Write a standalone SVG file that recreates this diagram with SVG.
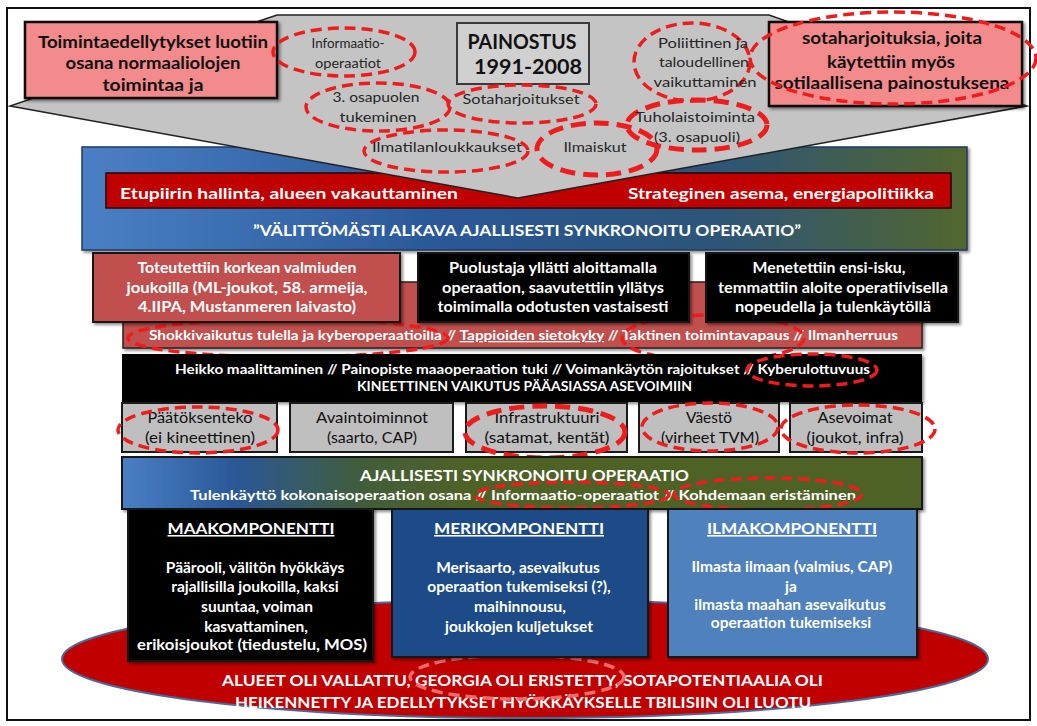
<svg xmlns="http://www.w3.org/2000/svg" width="1037" height="726" viewBox="0 0 1037 726">
<style>
text{font-family:Lato,"Liberation Sans",sans-serif;}
.b{font-weight:bold;}
.w{fill:#ffffff;}
.k{fill:#111111;}
.g{fill:#262626;}
.c{text-anchor:middle;}
.u{text-decoration:underline;}
.hl{fill:none;stroke:#ee1c1c;stroke-width:3.5;stroke-dasharray:11 6;}
.hl2{fill:none;stroke:#ee1c1c;stroke-width:5;stroke-dasharray:15 8;}
.bx{stroke:#151515;stroke-width:2;}
.pk{fill:#f38a8c;stroke:#111;stroke-width:2.5;}
.gb{fill:#bfbfbf;stroke:#1a1a1a;stroke-width:2;}
.body{font-size:15.5px;font-weight:bold;fill:#ffffff;text-anchor:middle;}
</style>
<defs>
<filter id="sh" x="-5%" y="-5%" width="110%" height="120%"><feDropShadow dx="2" dy="2" stdDeviation="1.5" flood-color="#000" flood-opacity="0.45"/></filter>
<linearGradient id="blueband" x1="0" y1="0" x2="1" y2="0">
<stop offset="0" stop-color="#4a7fc4"/><stop offset="0.4" stop-color="#2a5898"/><stop offset="0.72" stop-color="#2d5577"/><stop offset="1" stop-color="#52662e"/>
</linearGradient>
<linearGradient id="synk" x1="0" y1="0" x2="1" y2="0">
<stop offset="0" stop-color="#4a7fc4"/><stop offset="0.14" stop-color="#2a5898"/><stop offset="0.3" stop-color="#415d3a"/><stop offset="0.42" stop-color="#4f6228"/><stop offset="1" stop-color="#4f6228"/>
</linearGradient>
</defs>

<rect x="7" y="8" width="1023" height="712" fill="#ffffff" stroke="#111" stroke-width="2"/>

<g id="bottom-result">
<ellipse cx="525" cy="659" rx="463" ry="59" fill="#c00000" stroke="#4a6a9a" stroke-width="2"/>
<text class="b w" x="222" y="686" font-size="16" textLength="601" lengthAdjust="spacingAndGlyphs">ALUEET OLI VALLATTU, GEORGIA OLI ERISTETTY, SOTAPOTENTIAALIA OLI</text>
<text class="b w" x="235" y="708" font-size="16" textLength="576" lengthAdjust="spacingAndGlyphs">HEIKENNETTY JA EDELLYTYKSET HYÖKKÄYKSELLE TBILISIIN OLI LUOTU</text>
<ellipse cx="517" cy="677" rx="107" ry="22" fill="none" stroke="#f06a6a" stroke-width="3.5" stroke-dasharray="11 6"/>
</g>

<g id="blue-band">
<rect x="82" y="147" width="885" height="103" fill="url(#blueband)" stroke="#1f3864" stroke-width="1.5" filter="url(#sh)"/>
<text class="b w c" x="527" y="236" font-size="16" textLength="548" lengthAdjust="spacingAndGlyphs">”VÄLITTÖMÄSTI ALKAVA AJALLISESTI SYNKRONOITU OPERAATIO”</text>
</g>

<g id="interest-bar">
<rect x="106" y="173" width="845" height="35" fill="#c00000" stroke="#2a0000" stroke-width="1.5"/>
<text class="b w" x="120" y="199" font-size="16" textLength="338" lengthAdjust="spacingAndGlyphs">Etupiirin hallinta, alueen vakauttaminen</text>
<text class="b w" x="628" y="199" font-size="16" textLength="306" lengthAdjust="spacingAndGlyphs">Strateginen asema, energiapolitiikka</text>
</g>

<g id="painostus-funnel">
<polygon points="277,15 769,15 1027,106 518,198 10,106" fill="#c4c4c4" stroke="#222" stroke-width="1.5"/>
</g>

<g id="left-note">
<rect class="pk" x="25" y="22" width="252" height="76" filter="url(#sh)"/>
<text class="b k c" x="153" y="48" font-size="17" textLength="230" lengthAdjust="spacingAndGlyphs">Toimintaedellytykset luotiin</text>
<text class="b k c" x="153" y="69" font-size="17" textLength="175" lengthAdjust="spacingAndGlyphs">osana normaaliolojen</text>
<text class="b k c" x="153" y="91" font-size="17" textLength="101" lengthAdjust="spacingAndGlyphs">toimintaa ja</text>
</g>

<g id="right-note">
<rect class="pk" x="769" y="22" width="253" height="84" filter="url(#sh)"/>
<text class="b k c" x="892" y="44" font-size="17" textLength="180" lengthAdjust="spacingAndGlyphs">sotaharjoituksia, joita</text>
<text class="b k c" x="891" y="68" font-size="17" textLength="128" lengthAdjust="spacingAndGlyphs">käytettiin myös</text>
<text class="b k c" x="892" y="89" font-size="17" textLength="235" lengthAdjust="spacingAndGlyphs">sotilaallisena painostuksena</text>
<ellipse class="hl" cx="893" cy="58" rx="143" ry="46"/>
</g>

<g id="painostus-title">
<rect x="457" y="23" width="132" height="61" fill="#d0d0d0" stroke="#3a3a3a" stroke-width="2"/>
<text class="b k c" x="522" y="49" font-size="20" textLength="109" lengthAdjust="spacingAndGlyphs">PAINOSTUS</text>
<text class="b k c" x="528" y="74" font-size="20" textLength="108" lengthAdjust="spacingAndGlyphs">1991-2008</text>
</g>

<g id="informaatio-operaatiot">
<ellipse class="hl" cx="344" cy="52" rx="71" ry="24"/>
<text class="g c" x="348" y="48" font-size="14" textLength="73" lengthAdjust="spacingAndGlyphs">Informaatio-</text>
<text class="g c" x="348" y="68" font-size="14" textLength="66" lengthAdjust="spacingAndGlyphs">operaatiot</text>
</g>

<g id="osapuolen-tukeminen">
<ellipse class="hl" cx="378" cy="107" rx="72" ry="24"/>
<text class="g c" x="376" y="102" font-size="14" textLength="87" lengthAdjust="spacingAndGlyphs">3. osapuolen</text>
<text class="g c" x="378" y="122" font-size="14" textLength="77" lengthAdjust="spacingAndGlyphs">tukeminen</text>
</g>

<g id="sotaharjoitukset">
<ellipse class="hl" cx="522" cy="104" rx="74" ry="19"/>
<text class="g c" x="521" y="104" font-size="14" textLength="117" lengthAdjust="spacingAndGlyphs">Sotaharjoitukset</text>
</g>

<g id="ilmatilanloukkaukset">
<ellipse class="hl" cx="446" cy="151" rx="82" ry="21"/>
<text class="g" x="372" y="152" font-size="14" textLength="150" lengthAdjust="spacingAndGlyphs">Ilmatilanloukkaukset</text>
</g>

<g id="ilmaiskut">
<ellipse class="hl2" cx="597" cy="149" rx="60" ry="26"/>
<text class="g c" x="595" y="152" font-size="14" textLength="63" lengthAdjust="spacingAndGlyphs">Ilmaiskut</text>
</g>

<g id="poliittinen">
<ellipse class="hl" cx="692" cy="62" rx="58" ry="39"/>
<text class="g c" x="703" y="48" font-size="14" textLength="90" lengthAdjust="spacingAndGlyphs">Poliittinen ja</text>
<text class="g c" x="704" y="67" font-size="14" textLength="90" lengthAdjust="spacingAndGlyphs">taloudellinen</text>
<text class="g c" x="705" y="87" font-size="14" textLength="103" lengthAdjust="spacingAndGlyphs">vaikuttaminen</text>
</g>

<g id="tuholaistoiminta">
<ellipse class="hl2" cx="697" cy="125" rx="70" ry="25"/>
<text class="g c" x="695" y="122" font-size="14" textLength="120" lengthAdjust="spacingAndGlyphs">Tuholaistoiminta</text>
<text class="g c" x="697" y="142" font-size="14" textLength="86" lengthAdjust="spacingAndGlyphs">(3. osapuoli)</text>
</g>

<g id="effects-band">
<rect x="123" y="282" width="799" height="66" fill="#c0504d" stroke="#222" stroke-width="1.5" filter="url(#sh)"/>
<text class="b w" x="149" y="340" font-size="13" textLength="749" lengthAdjust="spacingAndGlyphs">Shokkivaikutus tulella ja kyberoperaatioilla // <tspan class="u">Tappioiden sietokyky</tspan> // Taktinen toimintavapaus // Ilmanherruus</text>
<ellipse class="hl" cx="288" cy="338" rx="160" ry="19"/>
<ellipse class="hl" cx="713" cy="338" rx="91" ry="23"/>
</g>

<g id="high-readiness">
<rect class="bx" x="93" y="253" width="307" height="69" fill="#c0504d" filter="url(#sh)"/>
<text class="b w c" x="247" y="273" font-size="15" textLength="219" lengthAdjust="spacingAndGlyphs">Toteutettiin korkean valmiuden</text>
<text class="b w c" x="247" y="293" font-size="15" textLength="241" lengthAdjust="spacingAndGlyphs">joukoilla (ML-joukot, 58. armeija,</text>
<text class="b w c" x="247" y="312" font-size="15" textLength="218" lengthAdjust="spacingAndGlyphs">4.IIPA, Mustanmeren laivasto)</text>
</g>

<g id="surprise">
<rect class="bx" x="418" y="253" width="271" height="69" fill="#000000" filter="url(#sh)"/>
<text class="b w c" x="553" y="273" font-size="15" textLength="208" lengthAdjust="spacingAndGlyphs">Puolustaja yllätti aloittamalla</text>
<text class="b w c" x="553" y="293" font-size="15" textLength="222" lengthAdjust="spacingAndGlyphs">operaation, saavutettiin yllätys</text>
<text class="b w c" x="553" y="312" font-size="15" textLength="231" lengthAdjust="spacingAndGlyphs">toimimalla odotusten vastaisesti</text>
</g>

<g id="first-strike">
<rect class="bx" x="706" y="253" width="252" height="69" fill="#000000" filter="url(#sh)"/>
<text class="b w c" x="829" y="273" font-size="15" textLength="153" lengthAdjust="spacingAndGlyphs">Menetettiin ensi-isku,</text>
<text class="b w c" x="833" y="293" font-size="15" textLength="230" lengthAdjust="spacingAndGlyphs">temmattiin aloite operatiivisella</text>
<text class="b w c" x="833" y="312" font-size="15" textLength="196" lengthAdjust="spacingAndGlyphs">nopeudella ja tulenkäytöllä</text>
</g>

<g id="kinetic-band">
<rect x="122" y="354" width="800" height="48" fill="#000000" filter="url(#sh)"/>
<text class="b w" x="175" y="374" font-size="13" textLength="695" lengthAdjust="spacingAndGlyphs">Heikko maalittaminen // Painopiste maaoperaation tuki // Voimankäytön rajoitukset // Kyberulottuvuus</text>
<text class="b w" x="357" y="391" font-size="13" textLength="335" lengthAdjust="spacingAndGlyphs">KINEETTINEN VAIKUTUS PÄÄASIASSA ASEVOIMIIN</text>
<ellipse class="hl" cx="812" cy="370" rx="65" ry="16"/>
</g>

<g id="paatoksenteko">
<rect class="gb" x="122" y="403" width="155" height="49"/>
<text class="k c" x="200" y="423" font-size="15" textLength="105" lengthAdjust="spacingAndGlyphs">Päätöksenteko</text>
<text class="k c" x="200" y="443" font-size="15" textLength="110" lengthAdjust="spacingAndGlyphs">(ei kineettinen)</text>
<ellipse class="hl" cx="198" cy="430" rx="80" ry="23"/>
</g>

<g id="avaintoiminnot">
<rect class="gb" x="290" y="403" width="163" height="49"/>
<text class="k c" x="372" y="423" font-size="15" textLength="112" lengthAdjust="spacingAndGlyphs">Avaintoiminnot</text>
<text class="k c" x="372" y="443" font-size="15" textLength="90" lengthAdjust="spacingAndGlyphs">(saarto, CAP)</text>
</g>

<g id="infrastruktuuri">
<rect class="gb" x="466" y="403" width="161" height="49"/>
<text class="k c" x="547" y="423" font-size="15" textLength="105" lengthAdjust="spacingAndGlyphs">Infrastruktuuri</text>
<text class="k c" x="547" y="443" font-size="15" textLength="125" lengthAdjust="spacingAndGlyphs">(satamat, kentät)</text>
<ellipse class="hl2" cx="545" cy="432" rx="80" ry="26"/>
</g>

<g id="vaesto">
<rect class="gb" x="639" y="403" width="140" height="49"/>
<text class="k c" x="709" y="423" font-size="15" textLength="46" lengthAdjust="spacingAndGlyphs">Väestö</text>
<text class="k c" x="710" y="443" font-size="15" textLength="98" lengthAdjust="spacingAndGlyphs">(virheet TVM)</text>
<ellipse class="hl" cx="710" cy="427" rx="68" ry="24"/>
</g>

<g id="asevoimat">
<rect class="gb" x="790" y="403" width="132" height="49"/>
<text class="k c" x="855" y="423" font-size="15" textLength="75" lengthAdjust="spacingAndGlyphs">Asevoimat</text>
<text class="k c" x="855" y="443" font-size="15" textLength="97" lengthAdjust="spacingAndGlyphs">(joukot, infra)</text>
<ellipse class="hl" cx="858" cy="429" rx="77" ry="24"/>
</g>

<g id="synchronized-operation">
<rect x="122" y="457" width="800" height="52" fill="url(#synk)" stroke="#151515" stroke-width="2" filter="url(#sh)"/>
<text class="b w" x="360" y="481" font-size="16" textLength="329" lengthAdjust="spacingAndGlyphs">AJALLISESTI SYNKRONOITU OPERAATIO</text>
<text class="b w" x="190" y="500" font-size="14" textLength="666" lengthAdjust="spacingAndGlyphs">Tulenkäyttö kokonaisoperaation osana // Informaatio-operaatiot // Kohdemaan eristäminen</text>
<ellipse class="hl" cx="572" cy="495" rx="97" ry="13"/>
<ellipse class="hl" cx="768" cy="494" rx="94" ry="16"/>
</g>

<g id="maakomponentti">
<rect class="bx" x="128" y="509" width="245" height="152" fill="#000000" filter="url(#sh)"/>
<text class="body u" x="251" y="534" font-size="16" textLength="167" lengthAdjust="spacingAndGlyphs">MAAKOMPONENTTI</text>
<text class="body" x="255" y="573">Päärooli, välitön hyökkäys</text>
<text class="body" x="255" y="592">rajallisilla joukoilla, kaksi</text>
<text class="body" x="257" y="612">suuntaa, voiman</text>
<text class="body" x="256" y="632">kasvattaminen,</text>
<text class="body" x="252" y="650" textLength="230" lengthAdjust="spacingAndGlyphs">erikoisjoukot (tiedustelu, MOS)</text>
</g>

<g id="merikomponentti">
<rect class="bx" x="392" y="509" width="256" height="148" fill="#1f4b88" filter="url(#sh)"/>
<text class="body u" x="519" y="534" font-size="16" textLength="170" lengthAdjust="spacingAndGlyphs">MERIKOMPONENTTI</text>
<text class="body" x="518" y="573">Merisaarto, asevaikutus</text>
<text class="body" x="519" y="592">operaation tukemiseksi (?),</text>
<text class="body" x="520" y="612">maihinnousu,</text>
<text class="body" x="519" y="632">joukkojen kuljetukset</text>
</g>

<g id="ilmakomponentti">
<rect class="bx" x="668" y="509" width="249" height="148" fill="#4f81bd" filter="url(#sh)"/>
<text class="body u" x="792" y="534" font-size="16" textLength="170" lengthAdjust="spacingAndGlyphs">ILMAKOMPONENTTI</text>
<text class="body" x="792" y="572">Ilmasta ilmaan (valmius, CAP)</text>
<text class="body" x="791" y="592">ja</text>
<text class="body" x="790" y="610">ilmasta maahan asevaikutus</text>
<text class="body" x="791" y="628">operaation tukemiseksi</text>
</g>

<g id="connectors"></g>
</svg>
